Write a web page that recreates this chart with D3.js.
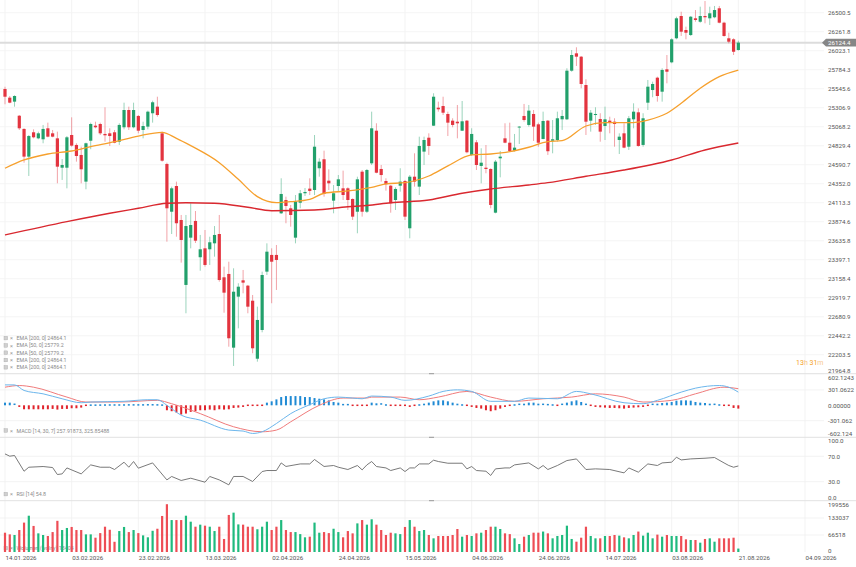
<!DOCTYPE html>
<html>
<head>
<meta charset="utf-8">
<script src="https://cdn.jsdelivr.net/npm/d3@7"></script>
<style>
html, body { margin: 0; padding: 0; background: #fff; }
svg { display: block; font-family: Roboto, "Noto Sans", sans-serif; }
</style>
</head>
<body>
<svg id="chart" width="856" height="567"></svg>
<script>
// daily bars, 14.01.2026 .. 21.08.2026
const openP = [
  25542,25433,25383,25206,25040,24692,24998,24922,24910,25048,
  24985,24922,24553,24553,24964,24839,24713,24378,24892,25081,
  25102,24977,24985,24998,24880,25061,25278,25061,25203,25027,
  25069,25237,25320,24985,24600,24000,24323,23896,23080,23674,
  23884,23428,23540,23528,23603,23720,23176,23218,22292,22933,
  23138,23071,22882,22153,22514,23247,23457,23457,23980,24147,
  24043,23674,24113,24232,24290,24273,24546,24659,24390,24139,
  24323,24294,24294,24160,24000,24503,24000,24608,25018,24537,
  24386,24327,24147,24327,24386,23792,24440,24315,24755,24930,
  25081,25307,25328,25228,25144,25131,25018,25144,24713,24872,
  24575,24553,24537,23988,24671,24922,24867,24767,25061,25203,
  25090,25228,25098,24914,25144,24892,24901,25161,25161,25772,
  25990,25948,25592,25144,25215,25165,25077,25144,25131,24901,
  24985,24817,25161,25249,24839,25370,25529,25684,25508,25789,
  25877,26179,26459,26283,26220,26430,26387,26459,26430,26443,
  26556,26375,26179,26166,26032
];
const highP = [
  25570,25454,25463,25215,25048,24964,25035,25006,25090,25119,
  25027,25006,24662,24951,25186,24860,24817,24868,25119,25131,
  25119,25312,25048,25027,25111,25370,25320,25370,25215,25131,
  25270,25395,25445,25006,24616,24315,24378,23959,23959,24106,
  24009,23708,23770,23686,23820,23959,23310,23372,23289,23101,
  23268,23080,22954,22807,23247,23603,23540,23582,24420,24189,
  24085,24210,24273,24298,24420,24964,24671,24767,24533,24336,
  24461,24516,24307,24168,24440,24524,24537,25257,25111,24587,
  24420,24336,24307,24546,24399,24461,24734,24943,24943,24985,
  25488,25383,25445,25257,25174,25341,25391,25152,25048,24901,
  24797,24838,24546,24650,24763,25111,25119,24977,25077,25354,
  25341,25278,25119,25257,25152,25152,25257,25278,25802,26032,
  26066,25956,25664,25278,25312,25237,25320,25194,25174,24985,
  25111,25203,25362,25299,25237,25655,25634,25697,25802,25969,
  26179,26450,26513,26325,26459,26534,26576,26647,26576,26585,
  26585,26387,26249,26179,26149
];
const lowP = [
  25350,25363,25320,25027,24616,24449,24922,24910,24860,24935,
  24935,24357,24399,24294,24817,24629,24357,24282,24785,25048,
  24964,24880,24826,24860,24839,25035,25027,25048,24985,24922,
  25035,25119,25194,24629,23624,23720,23686,23360,22724,23540,
  23607,23259,23310,23331,23435,23121,22731,22304,22062,22535,
  22975,22724,22221,22116,22485,23205,22850,23017,23972,23855,
  23812,23603,24043,24198,24210,24210,24440,24189,24273,23980,
  24252,24147,24022,23896,23729,23938,23984,24587,24483,24378,
  24265,23988,24022,24252,23896,23666,24315,24210,24587,24713,
  25077,25257,25215,24951,25061,24922,25014,24734,24700,24524,
  24357,24483,24043,23980,24432,24860,24755,24755,24851,25131,
  25069,24889,24817,24910,24713,24734,24880,25027,25152,25759,
  25831,25551,24964,25006,25090,24880,24901,24985,24817,24725,
  24797,24776,25048,24817,24817,25278,25438,25383,25383,25613,
  25865,26166,26208,26166,26208,26387,26375,26367,26346,26430,
  26367,26199,26116,25969,26023
];
const closeP = [
  25445,25370,25454,25048,24692,24951,24935,24985,25040,24943,
  24943,24566,24587,24935,24830,24700,24533,24860,25102,25061,
  24985,24960,24951,24867,25090,25278,25061,25278,25018,25077,
  25257,25375,25215,24641,24043,24294,23855,23645,23820,23833,
  23636,23528,23331,23616,23708,23142,22983,22410,22995,23058,
  23109,22807,22284,22640,23205,23498,23372,23394,24223,24072,
  23959,24126,24232,24248,24261,24817,24629,24223,24357,24232,
  24407,24210,24147,23938,24407,24000,24524,25048,24490,24461,
  24345,24106,24286,24378,23938,24440,24378,24826,24901,24826,
  25445,25287,25244,25119,25090,25111,25136,24747,24977,24587,
  24616,24537,24085,24629,24692,24867,24763,24805,25069,25152,
  25270,25069,24867,25140,24760,24910,25174,25203,25772,25969,
  25948,25605,25131,25244,25228,25006,25161,25119,25102,24943,
  24805,25174,25257,24826,25174,25571,25605,25454,25781,25759,
  26166,26430,26262,26249,26450,26409,26459,26443,26493,26534,
  26375,26208,26136,26010,26124.4
];
const volume = [
  75500,69000,66500,86000,115000,142000,102000,73000,66500,62600,
  78000,122000,86000,94000,98000,86000,86000,69000,69000,56000,
  74000,99000,87000,40000,82000,98000,78000,86000,74000,65000,
  57500,83000,91000,141000,187000,125000,125000,125000,142000,118600,
  99000,107000,103000,99000,82000,99000,51000,145000,154000,108000,
  107000,99000,99000,89000,99000,118600,86000,99000,125000,86000,
  78000,78000,70000,57500,60000,115000,75500,78000,74000,91000,
  78000,57500,82000,73000,112000,125000,107000,128000,107000,86000,
  66500,75500,73000,70000,98000,125000,99000,82000,86000,66500,
  53500,62600,62600,62600,66500,90000,60000,66500,62600,73000,
  75600,86000,99000,99000,90000,73000,70000,53500,31300,60000,
  66500,75600,75600,80000,73000,53500,62600,66500,103000,51000,
  40400,56000,99000,62600,53500,53500,62600,62600,66500,64000,
  57400,53500,66500,80000,64000,75600,53500,68000,60000,66500,
  62600,62600,62600,49600,47000,47000,36500,51000,53500,40400,
  53500,53500,53500,56000,13404
];
const macdHist = [
  52,52,20,-32,-78,-78,-78,-78,-78,-78,
  -71,-84,-71,-71,-58,-58,-45,-26,3,3,
  4,5,6,6,6,6,8,8,8,8,
  10,10,8,4,-97,-116,-142,-181,-162,-129,
  -116,-97,-97,-84,-97,-78,-84,-78,-52,-45,
  -32,-26,-19,-13,-6,52,78,116,162,181,
  181,181,181,162,162,142,129,116,97,65,
  52,13,13,-26,-26,-26,-26,52,39,26,
  6,-19,-26,-26,-26,-32,-26,6,32,52,
  78,97,97,78,52,32,6,-19,-32,-52,
  -65,-97,-116,-97,-65,-32,-19,6,19,32,
  52,52,32,19,13,6,-6,19,52,78,
  97,65,19,-6,-32,-39,-45,-52,-52,-58,
  -65,-52,-45,-39,-32,-19,19,32,45,52,
  65,91,97,97,91,65,52,45,32,19,
  6,-19,-26,-52,-65
];

// indicator lines, read at the bars where they could be measured
const ema50Idx = [0,4,9,14,18,23,28,33,36,39,45,49,53,57,60,64,67,72,77,80,84,89,93,98,102,106,110,114,117,122,126,131,135,139,142,146,150,154];
const ema50Val = [24546,24650,24725,24763,24817,24880,24951,24998,24922,24830,24616,24407,24189,24113,24126,24156,24232,24261,24307,24350,24365,24449,24575,24713,24725,24754,24810,24880,24892,25077,25119,25119,25152,25237,25362,25551,25697,25779.2];
const ema200Idx = [0,13,22,28,34,38,44,51,56,65,72,76,81,89,96,102,110,114,122,130,140,147,154];
const ema200Val = [23708,23875,23980,24043,24106,24113,24106,24056,24013,24022,24063,24078,24113,24147,24232,24286,24336,24365,24445,24524,24650,24776,24864.1];
const macdIdx = [0,2,4,8,12,16,18,25,30,32,34,37,41,47,50,52,54,57,60,64,67,70,73,75,77,81,84,89,92,95,98,102,107,110,116,120,123,130,134,137,142,145,150,152,154];
const macdVal = [400,400,291,225,128,50,64,78,109,109,0,-194,-291,-486,-505,-552,-519,-357,-163,12,128,161,142,128,181,161,97,181,272,303,272,78,78,142,128,272,225,50,31,97,258,336,388,355,257.9];
const signalIdx = [0,3,6,13,17,24,32,35,41,48,54,57,60,66,71,76,77,83,87,91,97,102,107,113,119,124,130,134,140,145,151,154];
const signalVal = [355,388,355,161,64,64,97,31,-163,-421,-519,-486,-324,0,142,142,161,161,109,161,272,161,78,128,161,225,161,64,97,225,355,325.9];
const rsiIdx = [0,1,2,4,5,8,10,11,12,13,16,18,20,22,23,25,26,27,28,31,34,35,37,39,42,43,45,47,48,50,52,54,55,57,58,59,62,64,65,67,69,70,72,74,75,76,77,78,80,81,83,84,85,86,87,89,90,91,93,96,97,98,99,101,102,103,105,106,107,110,112,113,114,116,118,120,122,124,127,130,131,133,135,137,138,140,141,142,144,147,149,151,152,153,154];
const rsiVal = [73.8,70.2,71.3,46.5,52.8,53.9,52.3,41.3,42.3,51.7,42.3,56.5,52.8,52.8,49.2,60.7,52.8,61.8,51.3,59.6,32.8,38.2,31.9,35.5,29.2,38.2,32.8,25,38.2,38.2,30.3,46,47.6,47.6,59.6,54,58,58,65,54,55.5,52.8,49.2,55.5,48.6,56.5,61.8,53.9,51.7,47.6,51.7,46,51.7,51.7,58,58,63.9,61.8,59.1,59.1,50.2,53.9,47.6,46.5,39.8,50.2,51.7,51.7,56.5,59.6,50.2,55.5,49.2,55.5,63.3,65.9,49.2,50.2,49.2,43.9,51.7,45,58,55.5,59.6,60.7,68.6,64.3,65.9,67,68.1,59.6,55.5,52.8,54.8];

// axes
const dateLabels = ["14.01.2026","03.02.2026","23.02.2026","13.03.2026","02.04.2026","24.04.2026","15.05.2026","04.06.2026","24.06.2026","14.07.2026","03.08.2026","21.08.2026","04.09.2026"];
const dateIdx = dateLabels.map((d, i) => i * 14);
const priceTicks = [26500.5,26261.8,26023.1,25784.3,25545.6,25306.9,25068.2,24829.4,24590.7,24352.0,24113.3,23874.6,23635.8,23397.1,23158.4,22919.7,22680.9,22442.2,22203.5,21964.8];
const macdTicks = [602.1243, 301.0622, 0, -301.0622, -602.1243];
const macdTickLabels = ["602.1243","301.0622","0.00000","-301.062","-602.124"];
const rsiTicks = [100, 70, 30, 0];
const volTicks = [199556, 133037, 66518, 0];
const lastPrice = 26124.4;

const emaLegend = ["EMA [200, 0] 24864.1","EMA [50, 0] 25779.2","EMA [50, 0] 25779.2","EMA [200, 0] 24864.1","EMA [200, 0] 24864.1"];
const macdLegend = "MACD [14, 30, 7] 257.91873, 325.85488";
const rsiLegend = "RSI [14] 54.8";
const volLegend = "Wolumen (wolny) 13404";

const GREEN = "#22a06b", RED = "#e3343f";
const VGREEN = "#1fba7e", VRED = "#ee4d55";

const svg = d3.select("#chart");
const idx = d3.range(closeP.length);

const x = d3.scaleLinear().domain([0, 168]).range([5, 805]);
const yP = d3.scaleLinear().domain([21964.8, 26500.5]).range([373.7, 12.7]);
const yM = d3.scaleLinear().domain([-602.1243, 602.1243]).range([436, 374.6]);
const yR = d3.scaleLinear().domain([0, 100]).range([500.7, 437.3]);
const yV = d3.scaleLinear().domain([0, 199556]).range([552, 501]);

// grid
const grid = svg.append("g");
grid.selectAll("line.v").data(dateIdx).join("line").attr("class", "v")
  .attr("x1", d => x(d)).attr("x2", d => x(d)).attr("y1", 0).attr("y2", 552)
  .attr("stroke", "#f0f0f0").attr("stroke-width", 0.8);
grid.selectAll("line.hp").data(priceTicks).join("line").attr("class", "hp")
  .attr("x1", 0).attr("x2", 824).attr("y1", d => yP(d)).attr("y2", d => yP(d))
  .attr("stroke", "#f3f3f3").attr("stroke-width", 0.8);
grid.selectAll("line.hm").data([301.0622, -301.0622]).join("line").attr("class", "hm")
  .attr("x1", 0).attr("x2", 824).attr("y1", d => yM(d)).attr("y2", d => yM(d))
  .attr("stroke", "#f0f0f0").attr("stroke-width", 0.8);
grid.selectAll("line.hr").data([70, 30]).join("line").attr("class", "hr")
  .attr("x1", 0).attr("x2", 824).attr("y1", d => yR(d)).attr("y2", d => yR(d))
  .attr("stroke", "#f0f0f0").attr("stroke-width", 0.8);
grid.selectAll("line.hv").data([66518, 133037]).join("line").attr("class", "hv")
  .attr("x1", 0).attr("x2", 824).attr("y1", d => yV(d)).attr("y2", d => yV(d))
  .attr("stroke", "#f0f0f0").attr("stroke-width", 0.8);

// pane separators
svg.append("g").selectAll("line").data([373.7, 437.3, 500.7]).join("line")
  .attr("x1", 0).attr("x2", 856).attr("y1", d => d).attr("y2", d => d)
  .attr("stroke", "#e2e2e2").attr("stroke-width", 1);
svg.append("g").selectAll("line").data([373.7, 437.3, 500.7]).join("line")
  .attr("x1", 429).attr("x2", 434).attr("y1", d => d).attr("y2", d => d)
  .attr("stroke", "#999").attr("stroke-width", 1);

// last price line
svg.append("line").attr("x1", 0).attr("x2", 824)
  .attr("y1", yP(lastPrice)).attr("y2", yP(lastPrice))
  .attr("stroke", "#dcdcdc").attr("stroke-width", 2);

// candles
const candles = svg.append("g");
candles.selectAll("line").data(idx).join("line")
  .attr("x1", i => x(i)).attr("x2", i => x(i))
  .attr("y1", i => yP(highP[i])).attr("y2", i => yP(lowP[i]))
  .attr("stroke", i => closeP[i] >= openP[i] ? GREEN : RED)
  .attr("stroke-opacity", 0.45).attr("stroke-width", 1);
candles.selectAll("rect").data(idx).join("rect")
  .attr("x", i => x(i) - 1.6).attr("width", 3.2)
  .attr("y", i => yP(Math.max(openP[i], closeP[i])))
  .attr("height", i => Math.max(0.9, Math.abs(yP(openP[i]) - yP(closeP[i]))))
  .attr("fill", i => closeP[i] >= openP[i] ? GREEN : RED);

// EMAs
const emaLine = d3.line().x(d => x(d[0])).y(d => yP(d[1])).curve(d3.curveMonotoneX);
svg.append("path").attr("d", emaLine(d3.zip(ema200Idx, ema200Val)))
  .attr("fill", "none").attr("stroke", "#d9282f").attr("stroke-width", 1.4);
svg.append("path").attr("d", emaLine(d3.zip(ema50Idx, ema50Val)))
  .attr("fill", "none").attr("stroke", "#f6a02d").attr("stroke-width", 1.3);

// MACD
svg.append("g").selectAll("rect").data(idx).join("rect")
  .attr("x", i => x(i) - 1).attr("width", 2)
  .attr("y", i => Math.min(yM(macdHist[i]), yM(0)) - (Math.abs(yM(macdHist[i]) - yM(0)) < 1.5 ? 0.75 : 0))
  .attr("height", i => Math.max(1.5, Math.abs(yM(macdHist[i]) - yM(0))))
  .attr("fill", i => macdHist[i] >= 0 ? "#1f8ad4" : "#e0232b");
const mLine = d3.line().x(d => x(d[0])).y(d => yM(d[1])).curve(d3.curveMonotoneX);
svg.append("path").attr("d", mLine(d3.zip(signalIdx, signalVal)))
  .attr("fill", "none").attr("stroke", "#f07b7b").attr("stroke-width", 1);
svg.append("path").attr("d", mLine(d3.zip(macdIdx, macdVal)))
  .attr("fill", "none").attr("stroke", "#6cb6ec").attr("stroke-width", 1);

// RSI
const rLine = d3.line().x(d => x(d[0])).y(d => yR(d[1]));
svg.append("path").attr("d", rLine(d3.zip(rsiIdx, rsiVal)))
  .attr("fill", "none").attr("stroke", "#6a6a6a").attr("stroke-width", 0.9);

// legends
function legend(text, y) {
  const g = svg.append("g").attr("transform", `translate(0,${y})`);
  g.append("rect").attr("x", 4).attr("y", -2).attr("width", 3.6).attr("height", 3.6)
    .attr("fill", "#d0d0d0").attr("stroke", "#aaa").attr("stroke-width", 0.4);
  g.append("text").attr("x", 10).attr("dy", "0.35em").attr("font-size", 5.5)
    .attr("fill", "#999").text("×");
  g.append("text").attr("x", 16.5).attr("dy", "0.35em").attr("font-size", 5.3)
    .attr("fill", "#8a8a8a").text(text);
}
emaLegend.forEach((t, k) => legend(t, 338.3 + k * 7.3));
legend(macdLegend, 430.7);
legend(rsiLegend, 494.3);
legend(volLegend, 548.3);

// volume
svg.append("g").selectAll("rect").data(idx).join("rect")
  .attr("x", i => x(i) - 1.1).attr("width", 2.2)
  .attr("y", i => yV(volume[i]))
  .attr("height", i => yV(0) - yV(volume[i]))
  .attr("fill", i => closeP[i] >= openP[i] ? VGREEN : VRED);

// right axes
function rightAxis(scale, ticks, fmt, topVal, botVal, nudge) {
  const g = svg.append("g").attr("transform", "translate(828,0)")
    .call(d3.axisRight(scale).tickValues(ticks).tickSize(0).tickPadding(0).tickFormat(fmt));
  g.select(".domain").remove();
  g.attr("font-size", 6.2).attr("font-family", "Roboto, sans-serif").attr("color", "#555");
  g.selectAll("text").attr("y", d => d === topVal ? nudge[0] : d === botVal ? nudge[1] : 0);
}
rightAxis(yP, priceTicks, d => d.toFixed(1), 26500.5, 21964.8, [0, -3.6]);
rightAxis(yM, macdTicks, (d, i) => macdTickLabels[i], 602.1243, -602.1243, [3.2, -2.4]);
rightAxis(yR, rsiTicks, d => d.toFixed(1), 100, 0, [3.4, -3]);
rightAxis(yV, volTicks, d => String(d), 199556, 0, [4, -1.7]);

// last price tag
const ly = yP(lastPrice);
svg.append("path")
  .attr("d", `M822,${ly} L826,${ly - 3.8} L856,${ly - 3.8} L856,${ly + 3.8} L826,${ly + 3.8} Z`)
  .attr("fill", "#868686");
svg.append("text").attr("x", 828).attr("y", ly).attr("dy", "0.35em")
  .attr("font-size", 6.2).attr("fill", "#fff").text(lastPrice.toFixed(1));

// countdown
const cd = svg.append("text").attr("x", 796).attr("y", 363).attr("dy", "0.35em").attr("font-size", 7);
cd.append("tspan").attr("fill", "#f5a024").text("13");
cd.append("tspan").attr("fill", "#f8c888").text("h ");
cd.append("tspan").attr("fill", "#f5a024").text("31");
cd.append("tspan").attr("fill", "#f8c888").text("m");

// date axis
const xa = svg.append("g").attr("transform", "translate(0,552.5)")
  .call(d3.axisBottom(x).tickValues(dateIdx).tickSize(0).tickPadding(3).tickFormat((d, i) => dateLabels[i]));
xa.select(".domain").remove();
xa.attr("font-size", 6.2).attr("font-family", "Roboto, sans-serif").attr("color", "#555");
xa.selectAll("text").attr("text-anchor", "start");
</script>
</body>
</html>
